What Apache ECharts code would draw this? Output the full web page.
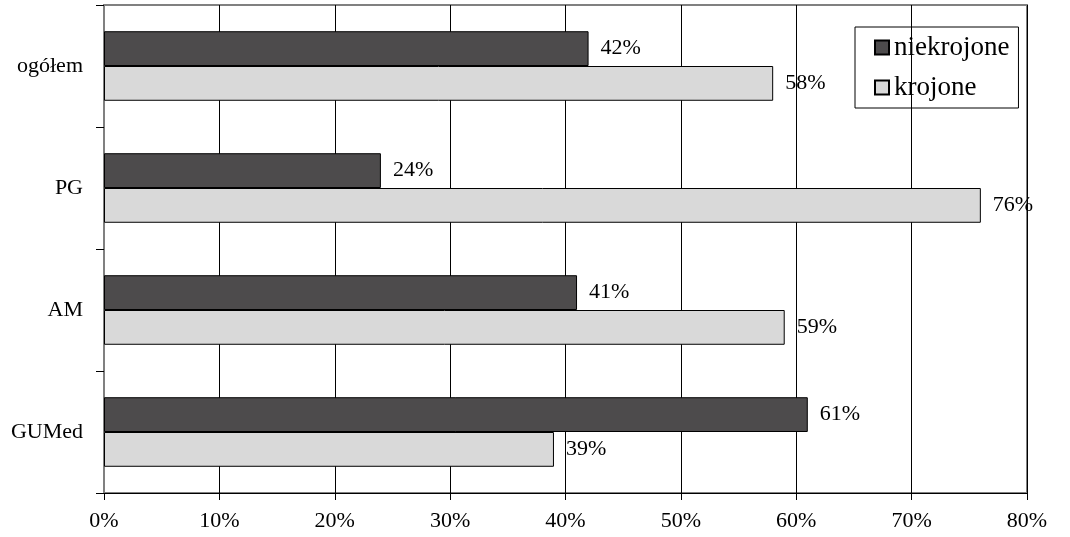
<!DOCTYPE html>
<html><head><meta charset="utf-8">
<script src="https://cdn.jsdelivr.net/npm/echarts@6/dist/echarts.min.js"></script>
<style>html,body{margin:0;padding:0;background:#fff}#c{width:1070px;height:537px}</style>
</head><body><div id="c"></div>
<script>
const categories = ['ogółem', 'PG', 'AM', 'GUMed'];
const niekrojone = [42, 24, 41, 61];
const krojone = [58, 76, 59, 39];
const xTicks = [0, 10, 20, 30, 40, 50, 60, 70, 80];
const seriesNames = ['niekrojone', 'krojone'];

const font = 'Liberation Serif';
const chart = echarts.init(document.getElementById('c'));
const lbl = {show: true, position: 'right', distance: 12, formatter: '{c}%', fontFamily: font, fontSize: 22, color: '#000'};
chart.setOption({
  animation: false,
  grid: {left: 104, right: 43, top: 5, bottom: 44, show: true, borderColor: '#808080', borderWidth: 2},
  legend: {
    orient: 'vertical', left: 855, top: 27,
    padding: [7, 9, 7, 19], itemGap: 13,
    borderColor: '#000', borderWidth: 1,
    icon: 'rect', itemWidth: 14, itemHeight: 14,
    textStyle: {fontFamily: font, fontSize: 27, lineHeight: 26, color: '#000'},
    data: seriesNames
  },
  xAxis: {
    type: 'value', min: 0, max: 80, interval: 10,
    axisLine: {show: true, lineStyle: {color: '#000', width: 1}},
    axisTick: {show: true, length: 7, lineStyle: {color: '#000'}},
    splitLine: {show: true, lineStyle: {color: '#000', width: 1}},
    axisLabel: {formatter: v => xTicks.includes(v) ? v + '%' : '', fontFamily: font, fontSize: 22, color: '#000', margin: 17}
  },
  yAxis: {
    type: 'category', data: categories, inverse: true,
    axisLine: {show: true, lineStyle: {color: '#808080', width: 2}},
    axisTick: {show: true, length: 8, lineStyle: {color: '#000'}},
    axisLabel: {fontFamily: font, fontSize: 22, color: '#000', margin: 21, padding: [4, 0, 0, 0]}
  },
  series: [
    {name: seriesNames[0], type: 'bar', data: niekrojone, barGap: '0%', barCategoryGap: '43%',
     itemStyle: {color: '#4d4b4c', borderColor: '#000', borderWidth: 1}, label: lbl},
    {name: seriesNames[1], type: 'bar', data: krojone,
     itemStyle: {color: '#d9d9d9', borderColor: '#000', borderWidth: 1}, label: lbl}
  ]
});
</script></body></html>
